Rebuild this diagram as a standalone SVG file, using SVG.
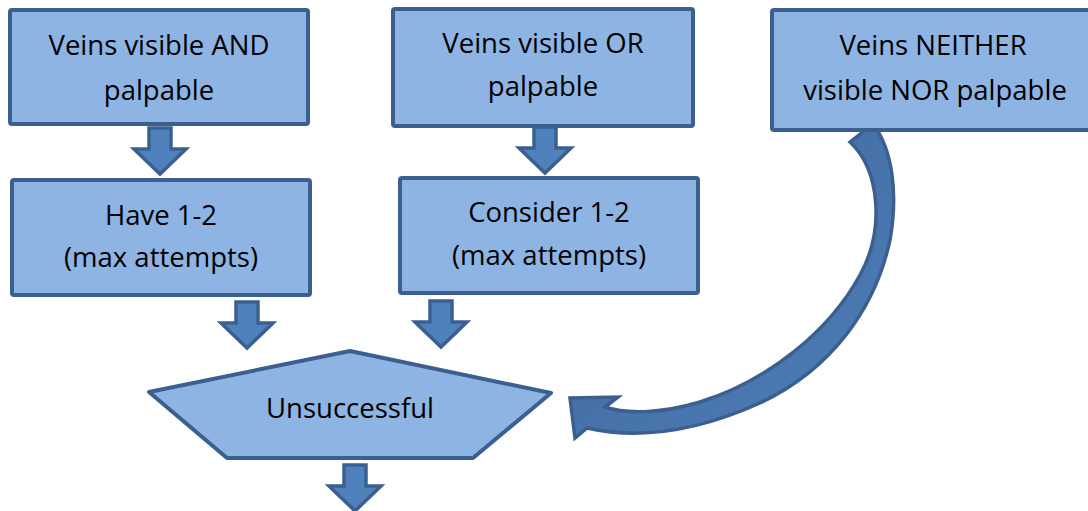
<svg xmlns="http://www.w3.org/2000/svg" xmlns:xlink="http://www.w3.org/1999/xlink" width="1088" height="511" viewBox="0 0 1088 511">
<style>
.box{fill:#8eb4e3;stroke:#3b6090;stroke-width:4;stroke-linejoin:round}
.arr{fill:#4f81bd;stroke:#3b6090;stroke-width:3.5;stroke-linejoin:miter}
.t{font-family:"Open Sans","Liberation Sans",sans-serif;font-size:27.5px;fill:#000;text-anchor:middle}
</style>
<defs>
<path id="ba" d="M-11,0 H11 V21 H26 L0,46 L-26,21 H-11 Z"/>
<linearGradient id="cg" x1="0" y1="0" x2="1" y2="1">
<stop offset="0" stop-color="#41689b"/>
<stop offset="1" stop-color="#4d7db8"/>
</linearGradient>
</defs>
<g id="connectors">
<use href="#ba" class="arr" x="160" y="128"/>
<use href="#ba" class="arr" x="545" y="127"/>
<use href="#ba" class="arr" x="247" y="302"/>
<use href="#ba" class="arr" x="441" y="301"/>
<use href="#ba" class="arr" x="355" y="465"/>
<path class="arr" style="fill:url(#cg)" d="M850,142 C880,170 885,230 860,275 C830,330 770,380 700,402 C660,414 625,414 605,407 L618,397 L570,398 L575,438 L587,428 C640,440 700,430 760,403 C830,370 875,310 890,240 C898,195 893,150 873,124 Z"/>
</g>
<g id="n1">
<rect class="box" x="10" y="10" width="298" height="114" rx="2"/>
<text class="t" x="159" y="55">Veins visible AND</text>
<text class="t" x="159" y="100">palpable</text>
</g>
<g id="n2">
<rect class="box" x="393" y="9" width="300" height="117" rx="2"/>
<text class="t" x="543" y="53">Veins visible OR</text>
<text class="t" x="543" y="96">palpable</text>
</g>
<g id="n3">
<rect class="box" x="772" y="10" width="322" height="120" rx="2"/>
<text class="t" x="933" y="55">Veins NEITHER</text>
<text class="t" x="935" y="100">visible NOR palpable</text>
</g>
<g id="n4">
<rect class="box" x="12" y="180" width="298" height="115" rx="2"/>
<text class="t" x="161" y="225">Have 1-2</text>
<text class="t" x="161" y="267">(max attempts)</text>
</g>
<g id="n5">
<rect class="box" x="400" y="178" width="298" height="115" rx="2"/>
<text class="t" x="549" y="222">Consider 1-2</text>
<text class="t" x="549" y="265">(max attempts)</text>
</g>
<g id="n6">
<polygon class="box" points="350,351 551,393 473,458 227,458 149,392"/>
<text class="t" x="350" y="418">Unsuccessful</text>
</g>
</svg>
